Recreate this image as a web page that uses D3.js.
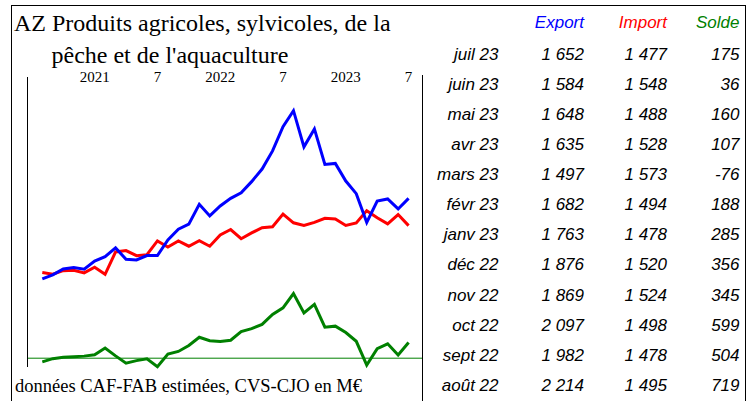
<!DOCTYPE html>
<html>
<head>
<meta charset="utf-8">
<script src="https://cdn.jsdelivr.net/npm/d3@7"></script>
<style>
  html, body { margin: 0; padding: 0; background: #fff; }
  svg { display: block; }
</style>
</head>
<body>
<svg id="chart" width="749" height="401"></svg>
<script>
// ---- data ----
const months = [
  "2020-08","2020-09","2020-10","2020-11","2020-12",
  "2021-01","2021-02","2021-03","2021-04","2021-05","2021-06","2021-07","2021-08","2021-09","2021-10","2021-11","2021-12",
  "2022-01","2022-02","2022-03","2022-04","2022-05","2022-06","2022-07","2022-08","2022-09","2022-10","2022-11","2022-12",
  "2023-01","2023-02","2023-03","2023-04","2023-05","2023-06","2023-07"
];
const exportVals = [1135,1161,1199,1208,1197,1249,1278,1334,1261,1257,1285,1285,1385,1454,1486,1614,1539,1603,1652,1688,1759,1840,1956,2111,2214,1982,2097,1869,1876,1763,1682,1497,1635,1648,1584,1652];
const importVals = [1176,1166,1188,1191,1174,1210,1165,1308,1317,1284,1291,1379,1340,1379,1345,1381,1345,1417,1452,1393,1430,1464,1470,1551,1495,1478,1498,1524,1520,1478,1494,1573,1528,1488,1548,1477];
const soldeVals  = [-41,-5,11,17,23,39,113,26,-56,-27,-6,-94,45,75,141,233,194,186,200,295,329,376,486,560,719,504,599,345,356,285,188,-76,107,160,36,175];

const tickMonths = ["2021-01","2021-07","2022-01","2022-07","2023-01","2023-07"];
const tickLabels = ["2021","7","2022","7","2023","7"];

const tableLabels = ["juil 23","juin 23","mai 23","avr 23","mars 23","févr 23","janv 23","déc 22","nov 22","oct 22","sept 22","août 22"];
const tableHeaders = ["Export","Import","Solde"];

const titleLines = ["AZ Produits agricoles, sylvicoles, de la", "pêche et de l'aquaculture"];
const footnote = "données CAF-FAB estimées, CVS-CJO en M€";

// ---- drawing ----
const svg = d3.select("#chart");
const serif = "'Liberation Serif', 'Times New Roman', serif";
const sans = "'Liberation Sans', Arial, sans-serif";
const colors = { exp: "#0000ff", imp: "#ff0000", sol: "#008000" };

// frame
svg.append("rect").attr("x", 11.5).attr("y", 5.5).attr("width", 734).attr("height", 400)
  .attr("fill", "none").attr("stroke", "#000").attr("stroke-width", 1);
svg.append("line").attr("x1", 27.5).attr("x2", 27.5).attr("y1", 77).attr("y2", 367)
  .attr("stroke", "#000");
svg.append("line").attr("x1", 422.5).attr("x2", 422.5).attr("y1", 75).attr("y2", 401)
  .attr("stroke", "#000");

// title
svg.append("text").attr("x", 14).attr("y", 31).attr("font-family", serif).attr("font-size", 24)
  .text(titleLines[0]);
svg.append("text").attr("x", 51.5).attr("y", 63).attr("font-family", serif).attr("font-size", 24)
  .text(titleLines[1]);

// scales
const x = d3.scalePoint().domain(months).range([42.3, 408.6]);
const yEI = d3.scaleLinear().domain([1497, 2214]).range([222.5, 110.7]);
const yS = d3.scaleLinear().domain([0, 719]).range([358.2, 293.5]);

// x tick labels
svg.append("g").selectAll("text").data(tickMonths).join("text")
  .attr("x", d => x(d)).attr("y", 82)
  .attr("text-anchor", "middle").attr("font-family", serif).attr("font-size", 15)
  .text((d, i) => tickLabels[i]);

// zero line for solde
svg.append("line").attr("x1", 28).attr("x2", 422).attr("y1", yS(0)).attr("y2", yS(0))
  .attr("stroke", colors.sol).attr("stroke-width", 1);

function drawLine(vals, scale, color) {
  const line = d3.line().x((d, i) => x(months[i])).y(d => scale(d));
  svg.append("path").datum(vals).attr("d", line)
    .attr("fill", "none").attr("stroke", color).attr("stroke-width", 3)
    .attr("stroke-linejoin", "miter");
}
drawLine(soldeVals, yS, colors.sol);
drawLine(importVals, yEI, colors.imp);
drawLine(exportVals, yEI, colors.exp);

// footnote
svg.append("text").attr("x", 15).attr("y", 392).attr("font-family", serif).attr("font-size", 18.5)
  .text(footnote);

// table
const fr = d3.formatLocale({ decimal: ",", thousands: "\u00a0", grouping: [3], currency: ["", " €"], minus: "-" });
const fmt = fr.format(",d");
const colRight = [584, 667, 739.5];
const headColors = [colors.exp, colors.imp, colors.sol];
const tbl = svg.append("g").attr("font-family", sans).attr("font-size", 17).attr("font-style", "italic")
  .attr("text-anchor", "end");
tbl.selectAll("text.h").data(tableHeaders).join("text").attr("class", "h")
  .attr("x", (d, i) => colRight[i]).attr("y", 28).attr("fill", (d, i) => headColors[i]).text(d => d);

const n = months.length;
const rows = tableLabels.map((lab, k) => ({ lab, k, idx: n - 1 - k }));
const rowY = k => 60 + 30.07 * k;
tbl.selectAll("text.m").data(rows).join("text").attr("class", "m")
  .attr("x", 498.5).attr("y", d => rowY(d.k)).attr("fill", "#000").text(d => d.lab);
tbl.selectAll("text.e").data(rows).join("text").attr("class", "e")
  .attr("x", colRight[0]).attr("y", d => rowY(d.k)).attr("fill", "#000").text(d => fmt(exportVals[d.idx]));
tbl.selectAll("text.i").data(rows).join("text").attr("class", "i")
  .attr("x", colRight[1]).attr("y", d => rowY(d.k)).attr("fill", "#000").text(d => fmt(importVals[d.idx]));
tbl.selectAll("text.s").data(rows).join("text").attr("class", "s")
  .attr("x", colRight[2]).attr("y", d => rowY(d.k)).attr("fill", "#000").text(d => fmt(soldeVals[d.idx]));
</script>
</body>
</html>
